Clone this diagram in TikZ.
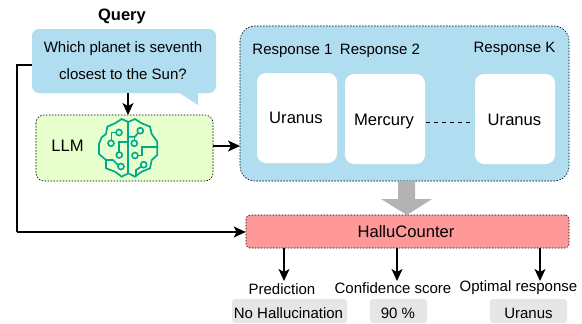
\documentclass[tikz,border=0pt]{standalone}
\usepackage{fontspec}
\setmainfont{Liberation Sans}
\usetikzlibrary{arrows.meta}
\definecolor{blueF}{HTML}{B1DDF0}
\definecolor{greenF}{HTML}{E6FFCC}
\definecolor{redF}{HTML}{FF9999}
\definecolor{chipF}{HTML}{E6E6E6}
\definecolor{arrowF}{HTML}{B3B3B3}
\definecolor{brainC}{HTML}{01A88D}
\tikzset{
  x=1pt,y=-1pt,
  txt/.style={font=\fontsize{15}{17}\selectfont,text=black,inner sep=0pt,align=center},
  big/.style={txt,font=\fontsize{16.6}{18}\selectfont},
  dbox/.style={draw=black,line width=0.6pt,dash pattern=on 1.5pt off 1.5pt},
  inner/.style={fill=white,rounded corners=9pt},
  chip/.style={fill=chipF,rounded corners=3pt},
  conn/.style={draw=black,line width=1.2pt,-{Stealth[length=12pt,width=11pt,inset=3pt]}},
  plain/.style={draw=black,line width=1.2pt},
  brain/.style={draw=brainC,line width=1.7pt,line join=miter},
  dot/.style={circle,draw=brainC,line width=1.6pt,fill=none,minimum size=6pt,inner sep=0pt}
}
\begin{document}
\begin{tikzpicture}
\useasboundingbox (0,0) rectangle (582,324);
\fill[white] (0,0) rectangle (582,324);
% bubble
\fill[blueF,rounded corners=7pt] (32,29) -- (216,29) -- (216,93) -- (32,93) -- cycle;
\fill[blueF] (178,92) -- (198,92) -- (198,105) -- cycle;
\node[txt,font=\fontsize{16.5}{18}\selectfont\bfseries] (q) at (122,16) {Query};
\node[txt] (q1) at (123,48.5) {Which planet is seventh};
\node[txt] (q2) at (123,74) {closest to the Sun?};
\coordinate (bubW) at (32,65);
\coordinate (bubS) at (128,93);
\coordinate (corner1) at (17,65);
\coordinate (corner2) at (17,232);
% LLM
\draw[dbox,fill=greenF,rounded corners=8pt] (36,115) rectangle (213,181);
\node[big] (llm) at (67.5,145.5) {LLM};
\coordinate (llmN) at (128,115);
\coordinate (llmE) at (213,146);
% Brain
\draw[brain] (128.3,122) -- (121.7,119) -- (115,123.3) -- (107.3,126.7) -- (106,134) -- (101.7,137.3) -- (99,144) -- (99,154) -- (106,160) -- (106,168.3) -- (115,171.7) -- (121.7,176.7) -- (128.3,173.3) -- (135,176.7) -- (141.7,171.7) -- (150,168.3) -- (151.7,160) -- (157.3,155) -- (157.3,141.7) -- (151.7,134) -- (150,126.7) -- (141.7,123.3) -- (135,119) -- cycle;
\draw[brain] (128.3,122) -- (128.3,173.3);
\draw[brain] (128.3,141.7) -- (119.3,141.7) -- (119.3,152);
\draw[brain] (116,132.5) -- (111.5,132.5) -- (111.5,140);
\draw[brain] (106,160) -- (113,160) -- (118,165);
\draw[brain] (128.3,136.7) -- (135,136.7) -- (138,133);
\draw[brain] (134.5,136.7) -- (134.5,140);
\draw[brain] (138,155.5) -- (141.7,155.5) -- (141.7,147) -- (157.3,147);
\draw[brain] (141.5,166.5) -- (136,170) -- (136,176);
\node[dot] (d1) at (119,132.5) {};
\node[dot] (d2) at (111,143.3) {};
\node[dot] (d3) at (119.3,155) {};
\node[dot] (d4) at (121,166.5) {};
\node[dot] (d5) at (140.3,130.7) {};
\node[dot] (d6) at (134.3,143.3) {};
\node[dot] (d7) at (135,155.5) {};
\node[dot] (d8) at (143.7,164.7) {};
% Responses
\draw[dbox,fill=blueF,rounded corners=15pt] (240,26) rectangle (569,181);
\coordinate (respW) at (240,146);
\node[txt] (r1) at (292.5,51) {Response 1};
\node[txt] (r2) at (380,51) {Response 2};
\node[txt] (rk) at (514.5,49) {Response K};
\node[inner,minimum width=80pt,minimum height=90pt,inner sep=0pt] (u1) at (297,118) {};
\node[inner,minimum width=80pt,minimum height=90pt,inner sep=0pt] (m) at (385,119) {};
\node[inner,minimum width=80pt,minimum height=90pt,inner sep=0pt] (uk) at (515,119) {};
\node[big] at (296,118) {Uranus};
\node[big] at (384,122) {Mercury};
\node[big] at (514.5,120) {Uranus};
\coordinate (dashA) at (426,122);
\coordinate (dashB) at (472,122);
\draw[black,line width=1pt,dash pattern=on 4pt off 4pt] (dashA) -- (dashB);
% block arrow
\fill[arrowF] (398,181) -- (415,181) -- (415,199) -- (432,199) -- (407,215) -- (381,199) -- (398,199) -- cycle;
% HalluCounter
\node[dbox,fill=redF,rounded corners=4pt,minimum width=323pt,minimum height=33pt,inner sep=0pt] (h) at (407.5,231.5) {};
\node[big] at (406,232) {HalluCounter};
% outputs
\coordinate (p) at (284,281);
\coordinate (c) at (397,281);
\coordinate (o) at (540,281);
\node[txt] (pt) at (282,289) {Prediction};
\node[txt] (ct) at (393,288) {Confidence score};
\node[txt] (ot) at (518.5,288) {Optimal response};
\node[chip,minimum width=115pt,minimum height=24pt,inner sep=0pt] (c1) at (289.5,311) {};
\node[chip,minimum width=57pt,minimum height=24pt,inner sep=0pt] (c2) at (398.5,311) {};
\node[chip,minimum width=77pt,minimum height=24pt,inner sep=0pt] (c3) at (528.5,311) {};
\node[txt] at (288.5,313) {No Hallucination};
\node[txt] at (398,313) {90 \%};
\node[txt] at (528.5,313) {Uranus};
% connectors
\draw[conn] (bubS) -- (llmN);
\draw[conn] (llmE) -- (respW);
\draw[plain] (bubW) -- (corner1) -- (corner2);
\draw[conn] (corner2) -- (h.west |- corner2);
\draw[conn] (h.south -| p) -- (p);
\draw[conn] (h.south -| c) -- (c);
\draw[conn] (h.south -| o) -- (o);
\end{tikzpicture}
\end{document}
